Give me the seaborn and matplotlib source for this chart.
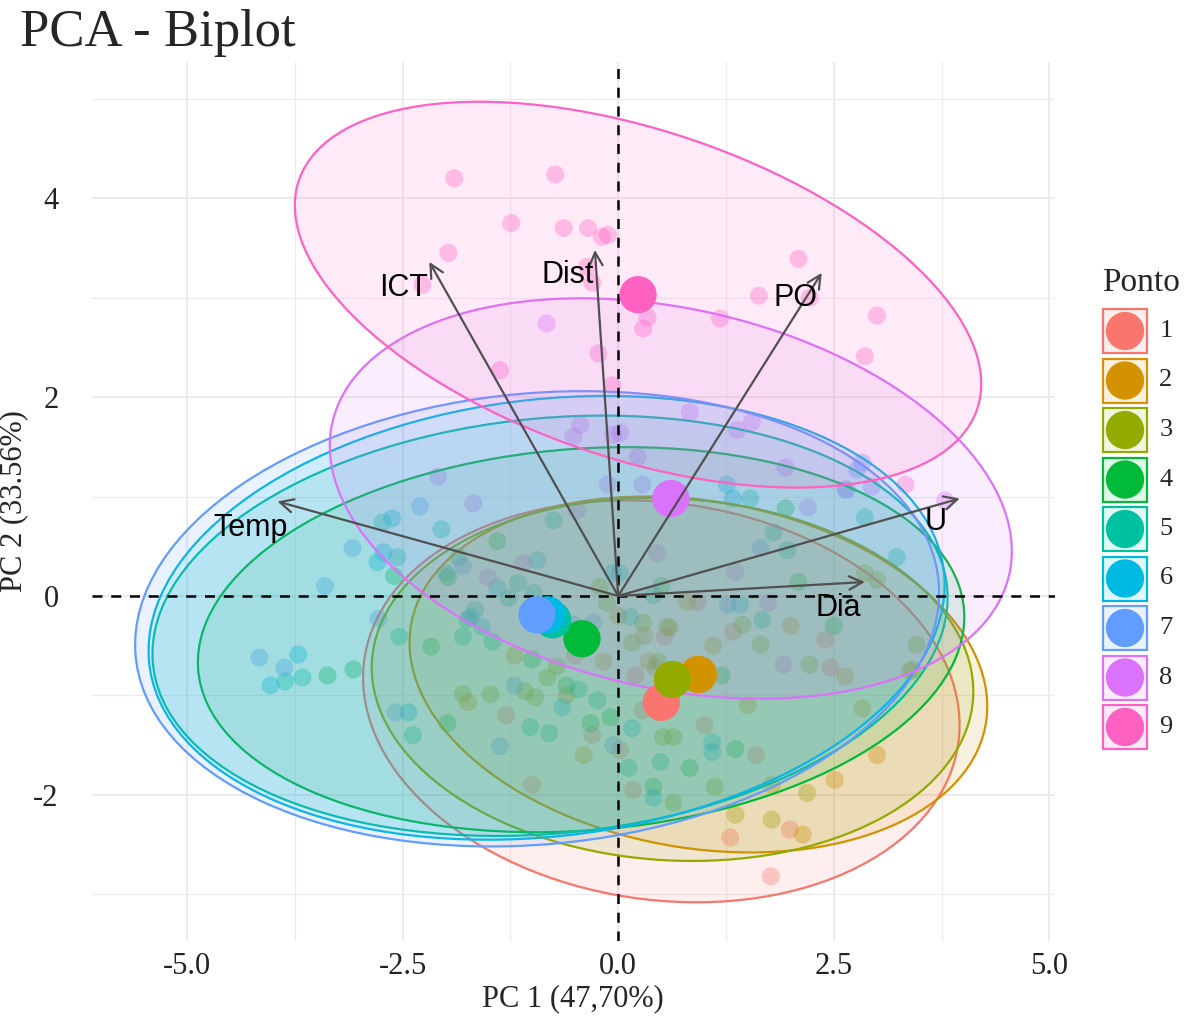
import numpy as np
import pandas as pd
import matplotlib
matplotlib.use("Agg")
import matplotlib.pyplot as plt
from matplotlib.patches import Ellipse, Rectangle
from matplotlib.colors import to_rgba
import seaborn as sns

# individus par ponto (PC1, PC2)
pc1_p1 = [1.99, 1.30, 1.77, 0.17, 0.02, 0.54, 1.33, 2.40, 2.46, 0.92, 0.28, -1.30, -0.50, 1.00, -1.00, 0.20, -0.30, 1.60, -0.80]
pc2_p1 = [-2.35, -2.43, -2.82, -1.95, -1.55, -0.41, -0.36, -0.44, -0.72, -0.06, -1.15, -1.20, -0.60, -1.30, -1.90, -0.80, -1.40, -1.60, -0.30]
pc1_p2 = [2.51, 2.14, 1.78, 0.60, 0.80, 2.63, 3.38, 2.83, -0.17, 0.35, 0.43, -1.74, -0.60, 1.50, 0.30, -1.20, 2.00, 3.00, -0.40, 1.10, 0.00]
pc2_p2 = [-1.85, -2.40, -1.90, -0.32, -0.06, -0.81, -0.76, -1.13, -0.66, -0.66, -0.72, -1.07, -1.00, -1.10, -0.40, -0.60, -0.30, -1.60, -1.60, -0.50, -0.20]
pc1_p3 = [-1.80, -0.82, -0.71, -1.08, -0.96, -1.48, -0.21, -0.13, 0.29, 0.16, 0.57, 0.46, 0.52, 0.64, 0.64, 1.12, 2.19, 1.36, 1.78, 3.46, 3.41, 3.00, 2.22, 1.44, 1.65, 2.86]
pc2_p3 = [-0.99, -0.82, -0.71, -0.96, -1.02, -0.99, 0.09, -0.07, -0.27, -0.47, -0.31, -0.66, -1.42, -1.42, -2.08, -1.92, -1.98, -2.20, -2.25, -0.49, -0.74, 0.16, -0.69, -0.29, -0.49, 0.23]
pc1_p4 = [-3.37, -3.07, -2.17, -1.98, -0.09, -0.32, 0.41, 0.83, 1.36, 1.94, 2.09, -1.97, -1.00, 2.50, -2.60, 0.50, -0.60, 1.20, -1.40]
pc2_p4 = [-0.80, -0.74, -0.51, -1.28, -1.22, -1.28, -1.92, -1.73, -1.54, 0.88, 0.14, 0.19, -0.64, -0.30, 0.20, 0.10, -0.90, -0.80, 0.55]
pc1_p5 = [-3.66, -3.86, -2.73, -2.56, -2.05, -2.00, -2.54, -1.80, -1.66, -1.75, -1.46, -2.38, -1.02, -0.80, -0.46, -0.24,
          0.12, 0.49, 0.41, 0.14, 1.53, 1.80, 1.96, 2.86, 3.23, 1.67, -0.75, -1.85, -1.16, -1.27, -0.98]
pc2_p5 = [-0.82, -0.86, 0.74, 0.39, 0.67, 0.23, -0.41, -0.41, -0.14, -0.24, -0.46, -1.40, -1.32, -1.38, -0.94, -1.05,
          -1.73, -1.67, 0.01, -0.21, 0.98, 0.64, 0.46, 0.79, 0.39, -0.24, 0.76, 0.39, 0.13, -0.02, 0.03]
pc1_p6 = [-3.71, -4.03, -2.62, -2.79, -2.72, -1.71, -1.58, -0.65, -2.43, 0.16, 0.41, 1.09, 1.09, 1.26, 1.33, 0.02, -0.06, -0.94, -1.40, 1.41]
pc2_p6 = [-0.59, -0.90, 0.78, 0.34, 0.44, -0.21, -0.31, -1.12, -1.17, -1.33, -2.03, -1.47, -1.57, 1.12, 0.98, 0.23, 0.23, 0.36, 0.08, -0.09]
pc1_p7 = [-4.16, -3.87, -3.08, -2.78, -2.58, -1.37, 1.65, 2.65, 2.77, 2.83, -0.06, 1.27, -0.29, -0.52, -1.80, -2.30, -1.20, -3.40]
pc2_p7 = [-0.62, -0.72, 0.48, -0.23, -1.17, -1.51, 0.48, 1.07, 1.27, 1.34, -1.50, -0.09, -0.27, -0.29, 0.30, 0.90, -0.90, 0.10]
pc1_p8 = [-0.83, -0.44, -0.52, -0.06, 0.02, -2.09, -1.68, -0.12, -0.48, -1.10, -1.51, 0.83, 1.38, 1.55, 0.23, 0.28, 1.94,
          2.20, 2.94, 0.45, 1.36, 3.79, 1.92, 1.74, 2.63]
pc2_p8 = [2.74, 1.72, 1.60, 1.62, 1.64, 1.20, 0.93, 1.12, 0.86, 0.33, 0.19, 1.85, 1.67, 1.75, 1.40, 1.12, 1.29,
          0.89, 1.10, 0.43, 0.24, 0.96, -0.69, -0.07, 1.07]
pc1_p9 = [-1.90, -0.73, -1.24, -0.63, -0.35, -0.19, -0.12, -1.97, -2.27, -0.36, -0.30, 0.34, 0.29, -0.23, -1.37, -0.07,
          1.18, 2.09, 1.63, 2.22, 3.00, 2.86, 3.33]
pc2_p9 = [4.20, 4.24, 3.75, 3.70, 3.70, 3.61, 3.63, 3.45, 3.13, 3.31, 3.15, 2.80, 2.69, 2.44, 2.27, 2.12,
          2.79, 3.39, 3.02, 3.00, 2.82, 2.41, 1.12]

pontos = ["1", "2", "3", "4", "5", "6", "7", "8", "9"]
pc1_all = [pc1_p1, pc1_p2, pc1_p3, pc1_p4, pc1_p5, pc1_p6, pc1_p7, pc1_p8, pc1_p9]
pc2_all = [pc2_p1, pc2_p2, pc2_p3, pc2_p4, pc2_p5, pc2_p6, pc2_p7, pc2_p8, pc2_p9]

# centroides
mean_pc1 = [0.50, 0.93, 0.63, -0.42, -0.76, -0.82, -0.94, 0.61, 0.23]
mean_pc2 = [-1.07, -0.79, -0.84, -0.43, -0.24, -0.19, -0.19, 0.98, 3.03]

# ellipses (centre, demi-axes, angle en degres)
ell_cx = [0.50, 0.93, 0.63, -0.43, -0.79, -0.83, -0.94, 0.61, 0.23]
ell_cy = [-1.06, -0.79, -0.84, -0.44, -0.30, -0.22, -0.23, 0.98, 3.03]
ell_a = [3.47, 3.37, 3.49, 4.45, 4.62, 4.63, 4.67, 4.00, 4.10]
ell_b = [2.00, 1.75, 1.82, 1.92, 2.09, 2.20, 2.27, 1.92, 1.67]
ell_ang = [-5.9, -7.5, -2.7, 3.6, 4.4, 5.3, 4.2, -9.95, -15.3]

# variables
var_names = ["Temp", "ICT", "Dist", "PO", "U", "Dia"]
var_pc1 = [-3.95, -2.19, -0.27, 2.36, 3.96, 2.86]
var_pc2 = [0.95, 3.36, 3.48, 3.25, 0.98, 0.14]
lab_pc1 = [-4.26, -2.49, -0.58, 2.05, 3.68, 2.55]
lab_pc2 = [0.68, 3.10, 3.23, 3.00, 0.74, -0.12]

palette = ["#F8766D", "#D39200", "#93AA00", "#00BA38", "#00C19F",
           "#00B9E3", "#619CFF", "#DB72FB", "#FF61C3"]

rows = []
for p, xs, ys in zip(pontos, pc1_all, pc2_all):
    for x, y in zip(xs, ys):
        rows.append((x, y, p))
df = pd.DataFrame(rows, columns=["PC1", "PC2", "Ponto"])
df_mean = pd.DataFrame({"PC1": mean_pc1, "PC2": mean_pc2, "Ponto": pontos})

sns.set_theme(style="white")
plt.rcParams['font.family'] = ['Liberation Serif', 'DejaVu Serif']

fig = plt.figure(figsize=(11.89, 10.25), dpi=100)
ax = fig.add_axes([0.0774, 0.082, 0.8096, 0.8575])

sns.scatterplot(data=df, x="PC1", y="PC2", hue="Ponto", hue_order=pontos, palette=palette,
                s=170, alpha=0.35, edgecolor="none", legend=False, ax=ax, zorder=2)

for i in range(len(pontos)):
    e = Ellipse((ell_cx[i], ell_cy[i]), 2 * ell_a[i], 2 * ell_b[i], angle=ell_ang[i],
                facecolor=to_rgba(palette[i], 0.12), edgecolor=palette[i], lw=1.6, zorder=3)
    ax.add_patch(e)

ax.axhline(0, color="black", ls=(0, (4, 3.5)), lw=1.8, zorder=4)
ax.axvline(0, color="black", ls=(0, (4, 3.5)), lw=1.8, zorder=4)

sns.scatterplot(data=df_mean, x="PC1", y="PC2", hue="Ponto", hue_order=pontos, palette=palette,
                s=720, alpha=1, edgecolor="none", legend=False, ax=ax, zorder=5)

for i in range(len(var_names)):
    ax.annotate("", xy=(var_pc1[i], var_pc2[i]), xytext=(0, 0),
                arrowprops=dict(arrowstyle="->", color="#505050", lw=1.6, mutation_scale=24,
                                shrinkA=0, shrinkB=0), zorder=6)
    ax.text(lab_pc1[i], lab_pc2[i], var_names[i], family=["Liberation Sans", "DejaVu Sans"],
            fontsize=22, ha="center", va="center", color="black", zorder=7)

ax.set_xlim(-6.1, 5.06)
ax.set_ylim(-3.47, 5.37)
ax.set_xticks([-5, -2.5, 0, 2.5, 5])
ax.set_xticklabels(["-5.0", "-2.5", "0.0", "2.5", "5.0"])
ax.set_xticks([-3.75, -1.25, 1.25, 3.75], minor=True)
ax.set_yticks([-2, 0, 2, 4])
ax.set_yticklabels(["-2", "0", "2", "4"])
ax.set_yticks([-3, -1, 1, 3, 5], minor=True)
ax.grid(which="major", color="#EBEBEB", lw=1.4)
ax.grid(which="minor", color="#EBEBEB", lw=0.8)
ax.set_axisbelow(True)
for s in ax.spines.values():
    s.set_visible(False)
ax.tick_params(which="both", length=0, labelsize=22, labelcolor="#222222", pad=8)
ax.tick_params(axis="y", pad=24)
ax.set_xlabel("PC 1 (47,70%)", fontsize=22, labelpad=2)
ax.set_ylabel("PC 2 (33.56%)", fontsize=22)
ax.yaxis.set_label_coords(-0.066, 0.5)

fig.text(0.017, 0.968, "PCA - Biplot", fontsize=38, ha="left", va="center")

# legende dessinee a la main (cles carrees + point)
lax = fig.add_axes([0, 0, 1, 1], facecolor="none")
lax.set_xlim(0, 1189)
lax.set_ylim(1025, 0)
lax.axis("off")
lax.text(1102, 283, "Ponto", fontsize=24, ha="left", va="center")
for i, c in enumerate(palette):
    yc = 331 + 49.5 * i
    lax.add_patch(Rectangle((1103, yc - 22), 44, 44, facecolor=to_rgba(c, 0.12), edgecolor=c, lw=1.6))
    lax.scatter([1125], [yc], s=760, color=c, edgecolor="none")
    lax.text(1166, yc, pontos[i], fontsize=19, ha="center", va="center")

fig.savefig("out.png", dpi=100)
